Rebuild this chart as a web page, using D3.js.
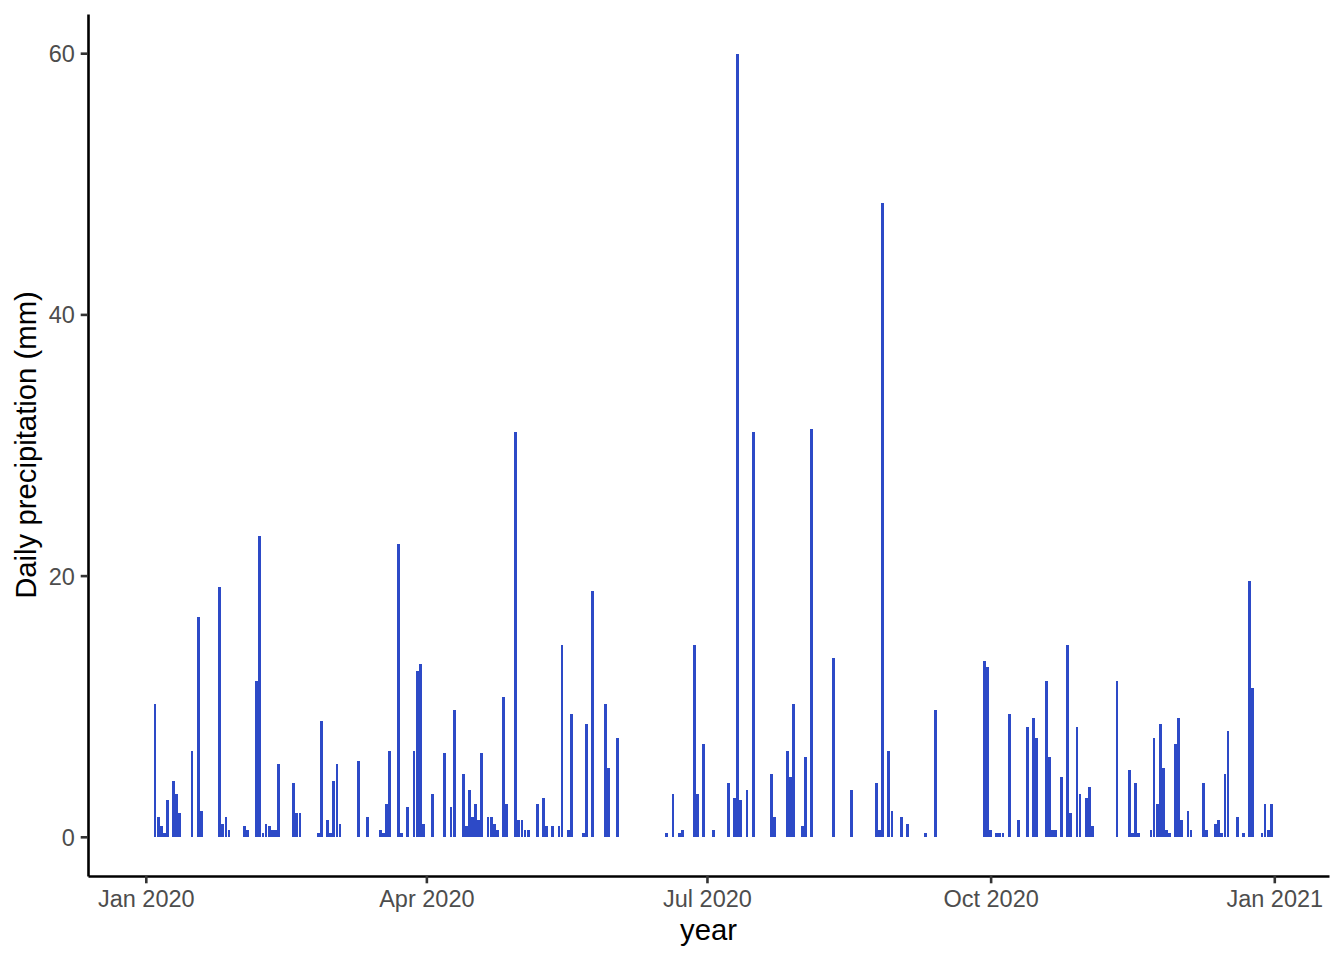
<!DOCTYPE html>
<html>
<head>
<meta charset="utf-8">
<script src="https://cdn.jsdelivr.net/npm/d3@7"></script>
<style>
  html, body { margin: 0; padding: 0; background: #ffffff; }
  svg { display: block; font-family: "Liberation Sans", Arial, Helvetica, sans-serif; }
</style>
</head>
<body>
<svg id="chart" width="1344" height="960"></svg>
<script>
// ---- data ----
const dates = [
  "2020-01-04","2020-01-05","2020-01-06","2020-01-07","2020-01-08","2020-01-10","2020-01-11","2020-01-12",
  "2020-01-16","2020-01-18","2020-01-19","2020-01-25","2020-01-26","2020-01-27","2020-01-28",
  "2020-02-02","2020-02-03","2020-02-06","2020-02-07","2020-02-08","2020-02-09","2020-02-10","2020-02-11",
  "2020-02-12","2020-02-13","2020-02-18","2020-02-19","2020-02-20","2020-02-26","2020-02-27","2020-02-29",
  "2020-03-01","2020-03-02","2020-03-03","2020-03-04","2020-03-10","2020-03-13","2020-03-17","2020-03-18",
  "2020-03-19","2020-03-20","2020-03-23","2020-03-24","2020-03-26","2020-03-28","2020-03-29","2020-03-30",
  "2020-03-31","2020-04-03","2020-04-07","2020-04-09","2020-04-10","2020-04-13","2020-04-14","2020-04-15",
  "2020-04-16","2020-04-17","2020-04-18","2020-04-19","2020-04-21","2020-04-22","2020-04-23","2020-04-24",
  "2020-04-26","2020-04-27","2020-04-30","2020-05-01","2020-05-02","2020-05-03","2020-05-04","2020-05-07",
  "2020-05-09","2020-05-10","2020-05-12","2020-05-14","2020-05-15","2020-05-17","2020-05-18","2020-05-22",
  "2020-05-23","2020-05-25","2020-05-29","2020-05-30","2020-06-02","2020-06-18","2020-06-20","2020-06-22",
  "2020-06-23","2020-06-27","2020-06-28","2020-06-30","2020-07-03","2020-07-08","2020-07-10","2020-07-11",
  "2020-07-12","2020-07-14","2020-07-16","2020-07-22","2020-07-23","2020-07-27","2020-07-28","2020-07-29",
  "2020-08-01","2020-08-02","2020-08-04","2020-08-11","2020-08-17","2020-08-25","2020-08-26","2020-08-27",
  "2020-08-29","2020-08-30","2020-09-02","2020-09-04","2020-09-10","2020-09-13","2020-09-29","2020-09-30",
  "2020-10-01","2020-10-03","2020-10-04","2020-10-05","2020-10-07","2020-10-10","2020-10-13","2020-10-15",
  "2020-10-16","2020-10-19","2020-10-20","2020-10-21","2020-10-22","2020-10-24","2020-10-26","2020-10-27",
  "2020-10-29","2020-10-30","2020-11-01","2020-11-02","2020-11-03","2020-11-11","2020-11-15","2020-11-16",
  "2020-11-17","2020-11-18","2020-11-22","2020-11-23","2020-11-24","2020-11-25","2020-11-26","2020-11-27",
  "2020-11-28","2020-11-30","2020-12-01","2020-12-02","2020-12-04","2020-12-05","2020-12-09","2020-12-10",
  "2020-12-13","2020-12-14","2020-12-15","2020-12-16","2020-12-17","2020-12-20","2020-12-22","2020-12-24",
  "2020-12-25","2020-12-28","2020-12-29","2020-12-30","2020-12-31"
];
const precip = [
  10.2, 1.5, 0.8, 0.3, 2.8, 4.3, 3.3, 1.8,
  6.6, 16.8, 2.0, 19.1, 1.0, 1.5, 0.5,
  0.8, 0.5, 11.9, 23.0, 0.3, 1.0, 0.8, 0.5,
  0.5, 5.6, 4.1, 1.8, 1.8, 0.3, 8.9, 1.3,
  0.3, 4.3, 5.6, 1.0, 5.8, 1.5, 0.5, 0.3,
  2.5, 6.6, 22.4, 0.3, 2.3, 6.6, 12.7, 13.2,
  1.0, 3.3, 6.4, 2.3, 9.7, 4.8, 0.8, 3.6,
  1.5, 2.5, 1.3, 6.4, 1.5, 1.5, 1.0, 0.5,
  10.7, 2.5, 31.0, 1.3, 1.3, 0.5, 0.5, 2.5,
  3.0, 0.8, 0.8, 0.8, 14.7, 0.5, 9.4, 0.3,
  8.6, 18.8, 10.2, 5.3, 7.6, 0.3, 3.3, 0.3,
  0.5, 14.7, 3.3, 7.1, 0.5, 4.1, 3.0, 59.9,
  2.8, 3.6, 31.0, 4.8, 1.5, 6.6, 4.6, 10.2,
  0.8, 6.1, 31.2, 13.7, 3.6, 4.1, 0.5, 48.5,
  6.6, 2.0, 1.5, 1.0, 0.3, 9.7, 13.5, 13.0,
  0.5, 0.3, 0.3, 0.3, 9.4, 1.3, 8.4, 9.1,
  7.6, 11.9, 6.1, 0.5, 0.5, 4.6, 14.7, 1.8,
  8.4, 3.3, 3.0, 3.8, 0.8, 11.9, 5.1, 0.3,
  4.1, 0.3, 0.5, 7.6, 2.5, 8.6, 5.3, 0.5,
  0.3, 7.1, 9.1, 1.3, 2.0, 0.5, 4.1, 0.5,
  1.0, 1.3, 0.3, 4.8, 8.1, 1.5, 0.3, 19.6,
  11.4, 0.3, 2.5, 0.5, 2.5
];
const xTicks = ["2020-01-01","2020-04-01","2020-07-01","2020-10-01","2021-01-01"];
const yTicks = [0, 20, 40, 60];
const xTitle = "year";
const yTitle = "Daily precipitation (mm)";

// ---- layout ----
const W = 1344, H = 960;
const panel = { left: 88, right: 1329, top: 14, bottom: 876 };
const DAY = 864e5;
const parse = d3.utcParse("%Y-%m-%d");

// x domain: all days of 2020, bar half width 0.45 day, expanded 5%
const dMin = parse("2020-01-01").getTime() - 0.45 * DAY;
const dMax = parse("2020-12-31").getTime() + 0.45 * DAY;
const ex = (dMax - dMin) * 0.05;
const x = d3.scaleUtc()
  .domain([new Date(dMin - ex), new Date(dMax + ex)])
  .range([panel.left, panel.right]);

const yMax = 60, yPad = yMax * 0.05;
const y = d3.scaleLinear()
  .domain([-yPad, yMax + yPad])
  .range([panel.bottom, panel.top]);

const svg = d3.select("#chart");
svg.append("rect").attr("width", W).attr("height", H).attr("fill", "#ffffff");

const data = dates.map((d, i) => ({ date: parse(d), value: precip[i] }));
const barW = x(new Date(dMin + 0.9 * DAY)) - x(new Date(dMin));

svg.append("g").attr("shape-rendering", "crispEdges")
  .selectAll("rect").data(data).join("rect")
  .attr("x", d => x(d.date) - barW / 2)
  .attr("width", barW)
  .attr("y", d => y(d.value))
  .attr("height", d => y(0) - y(d.value))
  .attr("fill", "#2d4ac7");

// ---- axes ----
const tickLen = 7.3, tickPad = 5.9;
const xAxis = d3.axisBottom(x)
  .tickValues(xTicks.map(parse))
  .tickFormat(d3.utcFormat("%b %Y"))
  .tickSize(tickLen).tickSizeOuter(0).tickPadding(tickPad);
const gx = svg.append("g").attr("transform", `translate(0,${panel.bottom})`).call(xAxis);

const yAxis = d3.axisLeft(y)
  .tickValues(yTicks)
  .tickSize(tickLen).tickSizeOuter(0).tickPadding(tickPad);
const gy = svg.append("g").attr("transform", `translate(${panel.left},0)`).call(yAxis);

[gx, gy].forEach(g => {
  g.select(".domain").attr("stroke", "#000000").attr("stroke-width", 2.6);
  g.selectAll(".tick line").attr("stroke", "#333333").attr("stroke-width", 2.6);
  g.selectAll(".tick text").attr("fill", "#4d4d4d")
    .style("font-size", "23.5px")
    .style("font-family", "'Liberation Sans', Arial, Helvetica, sans-serif");
});
gx.selectAll(".tick text").attr("dy", "0.76em");
gy.selectAll(".tick text").attr("dy", "0.36em");

// ---- titles ----
svg.append("text")
  .attr("x", (panel.left + panel.right) / 2)
  .attr("y", 940)
  .attr("text-anchor", "middle")
  .attr("fill", "#000000")
  .style("font-size", "29.3px")
  .text(xTitle);

svg.append("text")
  .attr("transform", `translate(36,${(panel.top + panel.bottom) / 2}) rotate(-90)`)
  .attr("text-anchor", "middle")
  .attr("fill", "#000000")
  .style("font-size", "29.3px")
  .text(yTitle);
</script>
</body>
</html>
